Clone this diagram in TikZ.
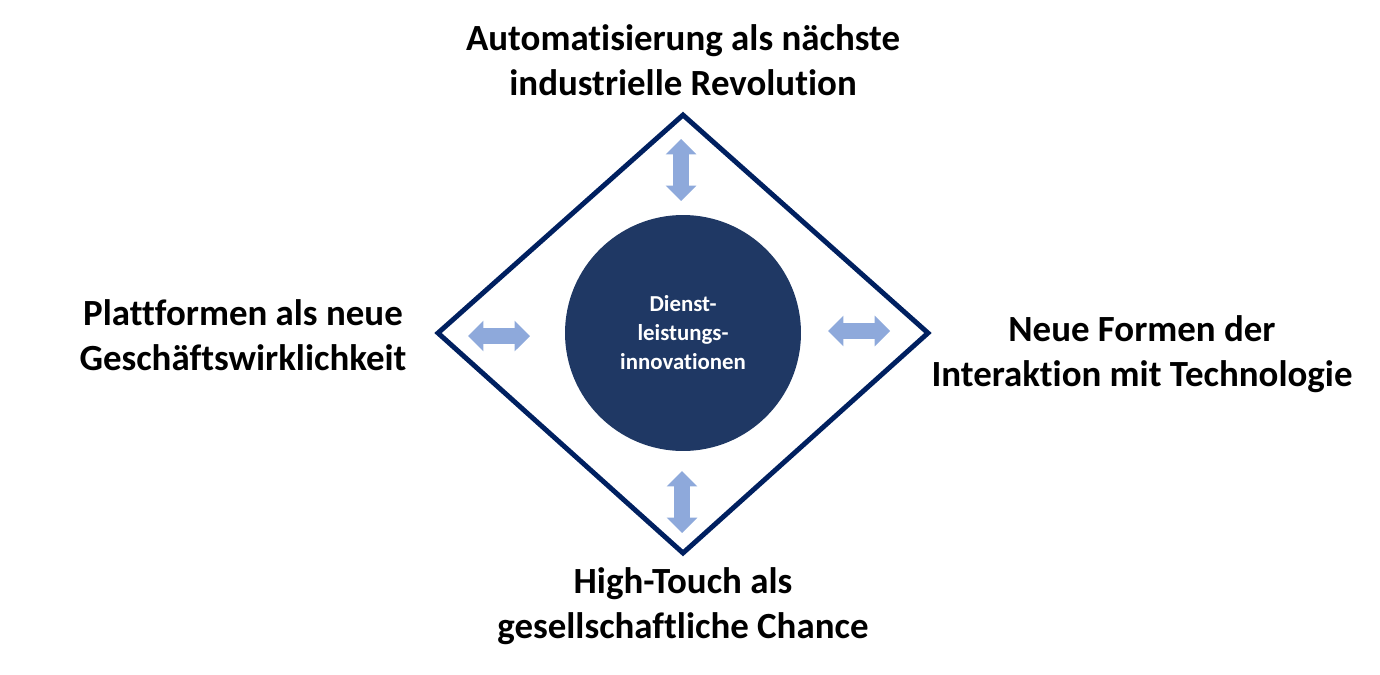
\documentclass[tikz,border=0pt]{standalone}
\usepackage{fontspec}
\setmainfont{Carlito}[Ligatures=NoCommon]
\usetikzlibrary{shapes.arrows}
\definecolor{frameNavy}{RGB}{0, 32, 96}
\definecolor{coreBlue}{RGB}{31, 56, 100}
\definecolor{linkBlue}{RGB}{142, 169, 219}

\begin{document}
\begin{tikzpicture}[x=0.02cm, y=0.02cm,
    topic/.style={align=center, font=\bfseries\fontsize{21}{25.5}\selectfont, text=black},
    link/.style={double arrow, fill=linkBlue, draw=none, inner xsep=0pt, inner ysep=0.15cm, minimum width=0.6cm, minimum height=1.24cm, double arrow head extend=0.15cm}]
    \useasboundingbox (0,0) rectangle (1380,674);
    % frame
    \coordinate (top) at (683,559);
    \coordinate (bottom) at (683,121);
    \coordinate (left) at (438,341);
    \coordinate (right) at (928,341);
    \draw[frameNavy, line width=2.8pt, line join=miter] (top) -- (right) -- (bottom) -- (left) -- cycle;
    % core
    \node[circle, fill=coreBlue, minimum size=4.72cm, text=white, align=center, font=\bfseries\fontsize{13}{16.5}\selectfont] (core) at (683,341) {Dienst-\\leistungs-\\innovationen};
    % links
    \node[link, rotate=90] (linkTop) at (681,504) {};
    \node[link, rotate=90] (linkBottom) at (682,172) {};
    \node[link] (linkLeft) at (499,338) {};
    \node[link] (linkRight) at (859,343) {};
    % topics
    \node[topic] (auto) at (683,614) {Automatisierung als nächste\\industrielle Revolution};
    \node[topic] (platform) at (243,339) {Plattformen als neue\\Geschäftswirklichkeit};
    \node[topic] (interact) at (1142,320) {Neue Formen der\\Interaktion mit Technologie};
    \node[topic] (touch) at (683,68) {High-Touch als\\gesellschaftliche Chance};
\end{tikzpicture}
\end{document}
